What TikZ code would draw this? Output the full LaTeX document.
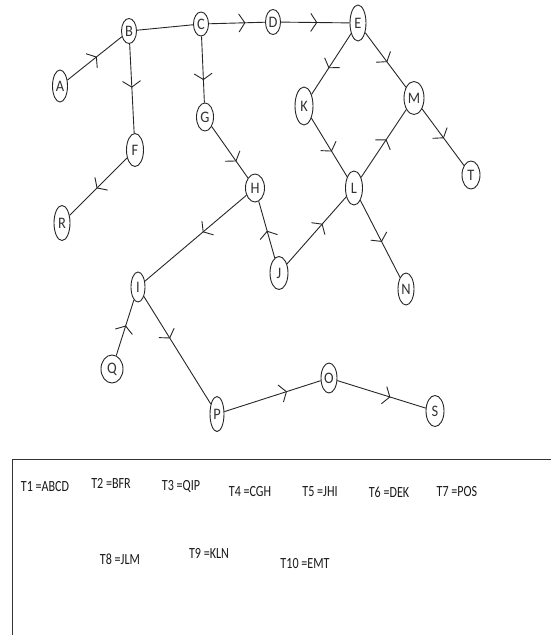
\documentclass[tikz,border=0pt]{standalone}
\usepackage{fontspec}
\setmainfont{Carlito}
\newfontfamily\labelfont[FakeStretch=0.78]{Carlito}
\newfontfamily\vtxfont[FakeStretch=0.9]{Carlito}
\usetikzlibrary{positioning,arrows.meta,shapes.geometric,decorations.markings}
\tikzset{
  vtx/.style={ellipse, draw=black!85, line width=0.9pt, fill=white, inner sep=0pt,
    minimum width=15pt, minimum height=29pt, font=\vtxfont\fontsize{16}{16}\selectfont, text=black!80},
  link/.style={draw=black!85, line width=0.9pt},
  flow/.style={link, postaction={decorate}, decoration={markings,
    mark=at position #1 with {\arrow{Straight Barb[length=6pt, width=18pt, line width=0.9pt]}}}},
  flow/.default=0.55,
  tlabel/.style={font=\labelfont\fontsize{15.5}{16}\selectfont, inner sep=0pt, text=black!90},
}
\begin{document}
\begin{tikzpicture}[x=1pt, y=-1pt]
  \path[use as bounding box] (0,0) rectangle (550,635);
  % vertices
  \node[vtx, minimum height=32pt] (A) at (60,86) {A};
  \node[vtx, minimum height=25pt] (B) at (129,31) {B};
  \node[vtx, minimum height=24pt] (C) at (201,24) {C};
  \node[vtx, minimum height=25pt] (D) at (273,22) {D};
  \node[vtx, minimum width=16pt, minimum height=36pt] (E) at (358,23) {E};
  \node[vtx, minimum width=17pt, minimum height=33pt] (F) at (135,150) {F};
  \node[vtx, minimum width=17pt, minimum height=28pt] (G) at (205,117) {G};
  \node[vtx, minimum width=19pt, minimum height=28pt] (H) at (255,188) {H};
  \node[vtx, minimum width=14pt, minimum height=30pt] (I) at (138,287) {I};
  \node[vtx, minimum width=18pt, minimum height=33pt] (J) at (279,273) {J};
  \node[vtx, minimum width=18pt, minimum height=38pt] (K) at (304,106) {K};
  \node[vtx, minimum width=17pt, minimum height=34pt] (L) at (354,188) {L};
  \node[vtx, minimum width=20pt, minimum height=33pt] (M) at (414,98) {M};
  \node[vtx, minimum width=16pt, minimum height=32pt] (N) at (406,289) {N};
  \node[vtx, minimum width=16pt, minimum height=30pt] (O) at (329,378) {O};
  \node[vtx, minimum width=14pt, minimum height=35pt] (P) at (217,414) {P};
  \node[vtx, minimum width=22pt, minimum height=28pt] (Q) at (112,369) {Q};
  \node[vtx, minimum width=16pt, minimum height=35pt] (R) at (62,223) {R};
  \node[vtx, minimum width=18pt, minimum height=31pt] (S) at (435,411) {S};
  \node[vtx, minimum width=18pt, minimum height=28pt] (T) at (471,175) {T};
  % edges
  \draw[flow=0.54] (A) -- (B);
  \draw[link] (B) -- (C);
  \draw[flow=0.65] (C) -- (D);
  \draw[flow=0.53] (D) -- (E);
  \draw[flow=0.49] (B) -- (F);
  \draw[flow=0.53] (F) -- (R);
  \draw[flow=0.66] (C) -- (G);
  \draw[flow=0.68] (G) -- (H);
  \draw[flow=0.43] (H) -- (I);
  \draw[flow=0.48] (J) -- (H);
  \draw[flow=0.57] (E) -- (K);
  \draw[flow=0.54] (E) -- (M);
  \draw[flow=0.57] (K) -- (L);
  \draw[flow=0.56] (L) -- (M);
  \draw[flow=0.52] (M) -- (T);
  \draw[flow=0.60] (J) -- (L);
  \draw[flow=0.54] (L) -- (N);
  \draw[flow=0.54] (Q) -- (I);
  \draw[flow=0.39] (I) -- (P);
  \draw[flow=0.65] (P) -- (O);
  \draw[flow=0.60] (O) -- (S);
  % legend box
  \draw[black!80, line width=0.9pt] (12,640) -- (12,459) -- (555,459);
  \node[tlabel] (t1) at (45,487) {T1 =ABCD};
  \node[tlabel] (t2) at (111,483) {T2 =BFR};
  \node[tlabel] (t3) at (181,486) {T3 =QIP};
  \node[tlabel] (t4) at (250,492) {T4 =CGH};
  \node[tlabel] (t5) at (320,492) {T5 =JHI};
  \node[tlabel] (t6) at (389,492) {T6 =DEK};
  \node[tlabel] (t7) at (457,492) {T7 =POS};
  \node[tlabel] (t8) at (120,559) {T8 =JLM};
  \node[tlabel] (t9) at (209,553) {T9 =KLN};
  \node[tlabel] (t10) at (305,564) {T10 =EMT};
\end{tikzpicture}
\end{document}
